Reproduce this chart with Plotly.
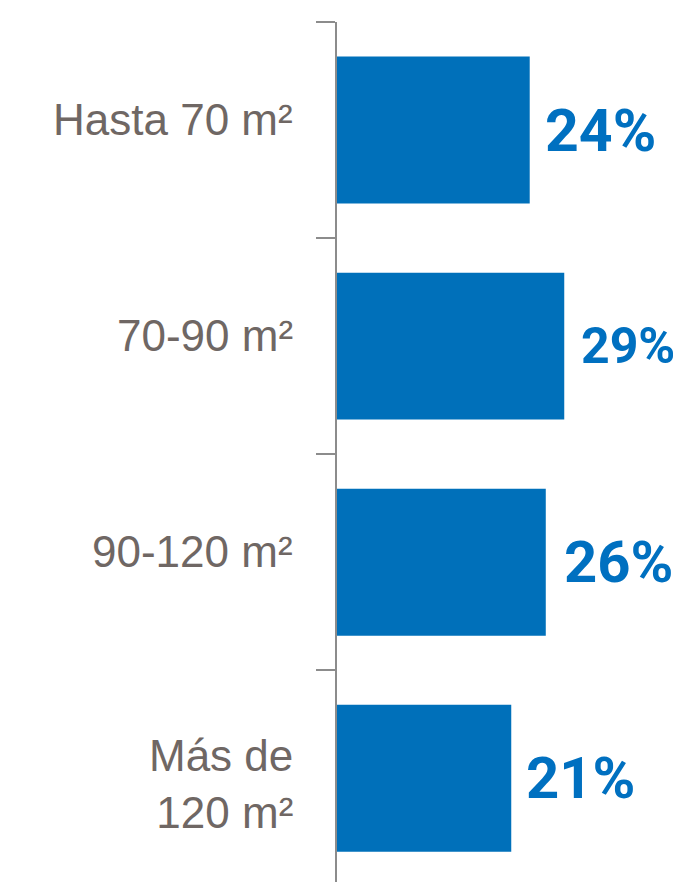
import plotly.graph_objects as go

categories = ["Hasta 70 m²", "70-90 m²", "90-120 m²", "Más de<br>120 m²"]
values = [24.0, 28.3, 26.0, 21.7]
value_labels = ["24%", "29%", "26%", "21%"]

BAR = "#0070BA"
GREY_TXT = "#6f6764"
AXIS = "#8c8c8c"
LABEL_SIZES = [59, 50, 58, 58]
LABEL_XSHIFT = [13, 15, 16, 13]

pos = list(range(len(categories)))
label_shift = [11 if "<br>" not in c else -6 for c in categories]

fig = go.Figure()
fig.add_trace(go.Bar(
    x=values, y=pos, orientation="h",
    marker=dict(color=BAR, line=dict(width=0)),
    width=0.68, hoverinfo="skip",
))

for i, (v, lab, cat) in enumerate(zip(values, value_labels, categories)):
    fig.add_annotation(x=v, y=i, xref="x", yref="y", text=lab, showarrow=False,
                       xanchor="left", yanchor="middle", xshift=LABEL_XSHIFT[i],
                       font=dict(family="Roboto", size=LABEL_SIZES[i], color="#0070C0", weight="bold"))
    fig.add_annotation(x=0, y=i, xref="paper", yref="y", text=cat, showarrow=False,
                       xanchor="right", yanchor="middle", xshift=-42, yshift=label_shift[i],
                       align="right",
                       font=dict(family="Liberation Sans, Arial", size=44, color=GREY_TXT))

# page body adds an 8px margin, so the figure is sized to fit the 681x882 window
fig.update_layout(
    width=673, height=874,
    margin=dict(l=329, r=0, t=14, b=0),
    paper_bgcolor="white", plot_bgcolor="white",
    showlegend=False,
    xaxis=dict(range=[0, 42.84], visible=False, fixedrange=True),
    yaxis=dict(range=[3.48, -0.5], tickvals=[-0.5, 0.5, 1.5, 2.5], ticktext=["", "", "", ""],
               showline=True, linecolor=AXIS, linewidth=2, ticks="outside", ticklen=19,
               tickwidth=2, tickcolor=AXIS, showgrid=False, zeroline=False),
)

fig.write_html("out.html")
